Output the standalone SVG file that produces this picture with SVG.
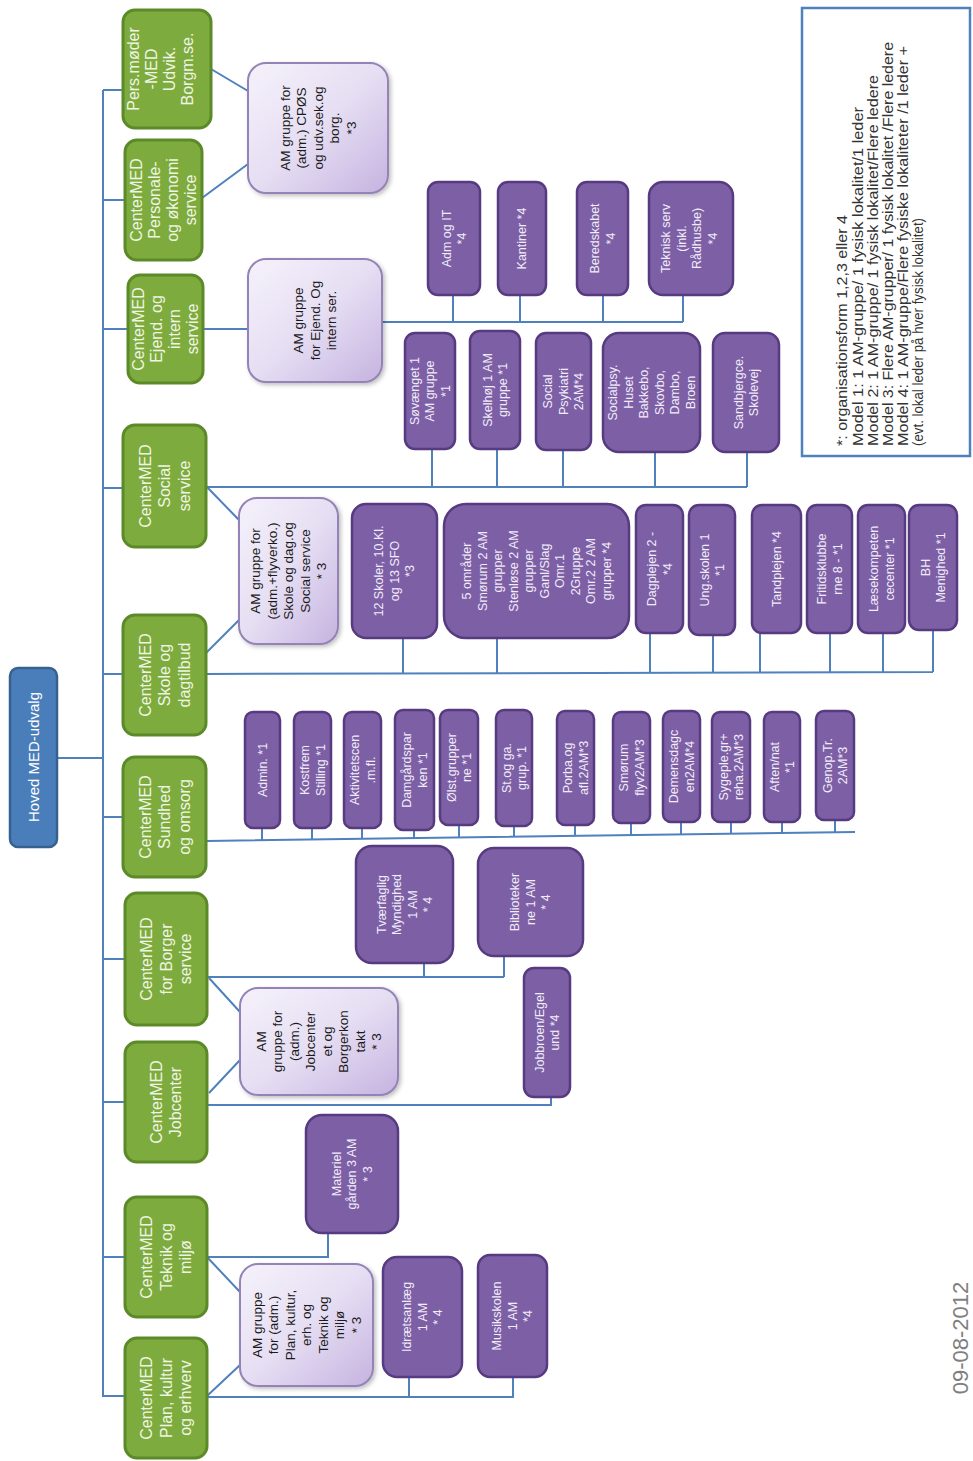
<svg xmlns="http://www.w3.org/2000/svg" width="973" height="1461" viewBox="0 0 973 1461">
<defs>
<linearGradient id="lav" x1="0" y1="0" x2="1" y2="1">
<stop offset="0" stop-color="#f5f2fb"/>
<stop offset="0.5" stop-color="#e6def3"/>
<stop offset="1" stop-color="#c5b3e0"/>
</linearGradient>
<filter id="sh" x="-10%" y="-10%" width="130%" height="130%">
<feDropShadow dx="2" dy="2" stdDeviation="2" flood-color="#000" flood-opacity="0.25"/>
</filter>
</defs>
<style>
text{font-family:"Liberation Sans",Arial,sans-serif;text-anchor:middle}
.gr{fill:#7eab3e;stroke:#5c8a28;stroke-width:3}
.pu{fill:#7d5fa6;stroke:#573b80;stroke-width:2.5}
.la{fill:url(#lav);stroke:#9483b6;stroke-width:2;filter:url(#sh)}
.bl{fill:#4a7ebb;stroke:#36618f;stroke-width:2.5}
.tg{font-size:16px;fill:#eef5e2}
.tp{font-size:12.5px;fill:#f1ecf8}
.tl{font-size:13.5px;fill:#1a1a1a}
.tb{font-size:15px;fill:#ffffff}
.ln{fill:none;stroke:#4f81bd;stroke-width:2}
.lg{font-size:14.5px;fill:#333333;text-anchor:start}
</style>
<rect width="973" height="1461" fill="#ffffff"/>

<g id="connectors" class="ln">
<path d="M103,90 V1397"/>
<path d="M57,758 H103"/>
<path d="M103,90 H123 M103,200 H125 M103,329 H128 M103,488 H123 M103,674 H123 M103,817 H123 M103,959 H125 M103,1102 H125 M103,1257 H125 M103,1396 H125"/>
<path d="M211,69 L248,91 M202,198 L248,164"/>
<path d="M203,329 H248"/>
<path d="M382,322 H683 M453,295 V322 M520,295 V322 M603,295 V322 M683,295 V322"/>
<path d="M206,487 H747 M432,449 V487 M497,449 V487 M563,450 V487 M655,452 V487 M747,452 V487"/>
<path d="M206,486 L239,520 M206,653 L239,620"/>
<path d="M206,674 L933,672 M403,638 V674 M497,638 V673 M650,633 V673 M713,635 V673 M760,633 V673 M830,633 V673 M883,633 V672 M933,630 V672"/>
<path d="M207,841 L855,832 M262,828 V840 M312,828 V840 M362,828 V839 M414,830 V838 M459,825 V838 M514,826 V837 M575,825 V836 M631,823 V835 M681,822 V834 M731,822 V834 M782,822 V833 M835,820 V832"/>
<path d="M207,977 H504 M424,963 V977 M504,956 V977"/>
<path d="M209,978 L240,1012 M209,1093 L240,1060"/>
<path d="M207,1105 H551 V1097"/>
<path d="M207,1257 H328 V1233"/>
<path d="M207,1257 L240,1292 M207,1396 L240,1365"/>
<path d="M207,1397 H513 V1377 M409,1377 V1397"/>
</g>

<g id="hoved"><rect class="bl" x="10" y="668" width="47" height="179" rx="8"/>
<text class="tb" transform="translate(33.5,757) rotate(-90)" y="5.25">Hoved MED-udvalg</text></g>

<g id="g-pers"><rect class="gr" x="123" y="10" width="88" height="118" rx="12"/>
<text class="tg" transform="translate(160,69) rotate(-90)"><tspan x="0" y="-21.4">Pers.møder</tspan><tspan x="0" y="-3.4">-MED</tspan><tspan x="0" y="14.6">Udvik.</tspan><tspan x="0" y="32.6">Borgm.se.</tspan></text></g>
<g id="g-personale"><rect class="gr" x="125" y="140" width="77" height="120" rx="12"/>
<text class="tg" transform="translate(163.5,200) rotate(-90)"><tspan x="0" y="-21.4">CenterMED</tspan><tspan x="0" y="-3.4">Personale-</tspan><tspan x="0" y="14.6">og økonomi</tspan><tspan x="0" y="32.6">service</tspan></text></g>
<g id="g-ejend"><rect class="gr" x="128" y="275" width="75" height="108" rx="12"/>
<text class="tg" transform="translate(165.5,329) rotate(-90)"><tspan x="0" y="-21.4">CenterMED</tspan><tspan x="0" y="-3.4">Ejend. og</tspan><tspan x="0" y="14.6">intern</tspan><tspan x="0" y="32.6">service</tspan></text></g>
<g id="g-social"><rect class="gr" x="123" y="425" width="83" height="122" rx="12"/>
<text class="tg" transform="translate(164.5,486) rotate(-90)"><tspan x="0" y="-13.9">CenterMED</tspan><tspan x="0" y="5.6">Social</tspan><tspan x="0" y="25.1">service</tspan></text></g>
<g id="g-skole"><rect class="gr" x="123" y="615" width="83" height="120" rx="12"/>
<text class="tg" transform="translate(164.5,675) rotate(-90)"><tspan x="0" y="-13.9">CenterMED</tspan><tspan x="0" y="5.6">Skole og</tspan><tspan x="0" y="25.1">dagtilbud</tspan></text></g>
<g id="g-sundhed"><rect class="gr" x="123" y="757" width="83" height="120" rx="12"/>
<text class="tg" transform="translate(164.5,817) rotate(-90)"><tspan x="0" y="-13.9">CenterMED</tspan><tspan x="0" y="5.6">Sundhed</tspan><tspan x="0" y="25.1">og omsorg</tspan></text></g>
<g id="g-borger"><rect class="gr" x="125" y="893" width="82" height="132" rx="12"/>
<text class="tg" transform="translate(166,959) rotate(-90)"><tspan x="0" y="-13.9">CenterMED</tspan><tspan x="0" y="5.6">for Borger</tspan><tspan x="0" y="25.1">service</tspan></text></g>
<g id="g-jobcenter"><rect class="gr" x="125" y="1042" width="82" height="120" rx="12"/>
<text class="tg" transform="translate(166,1102) rotate(-90)"><tspan x="0" y="-3.9">CenterMED</tspan><tspan x="0" y="15.1">Jobcenter</tspan></text></g>
<g id="g-teknik"><rect class="gr" x="125" y="1197" width="82" height="120" rx="12"/>
<text class="tg" transform="translate(166,1257) rotate(-90)"><tspan x="0" y="-13.9">CenterMED</tspan><tspan x="0" y="5.6">Teknik og</tspan><tspan x="0" y="25.1">miljø</tspan></text></g>
<g id="g-plan"><rect class="gr" x="125" y="1338" width="82" height="120" rx="12"/>
<text class="tg" transform="translate(166,1398) rotate(-90)"><tspan x="0" y="-13.9">CenterMED</tspan><tspan x="0" y="5.6">Plan, kultur</tspan><tspan x="0" y="25.1">og erhverv</tspan></text></g>

<g id="l-cpos"><rect class="la" x="248" y="63" width="140" height="130" rx="18"/>
<text class="tl" transform="translate(318,128) rotate(-90)"><tspan x="0" y="-28.3">AM gruppe for</tspan><tspan x="0" y="-11.8">(adm.) CPØS</tspan><tspan x="0" y="4.7">og udv.sek.og</tspan><tspan x="0" y="21.2">borg.</tspan><tspan x="0" y="37.7">*3</tspan></text></g>
<g id="l-ejend"><rect class="la" x="248" y="259" width="134" height="123" rx="18"/>
<text class="tl" transform="translate(315,320.5) rotate(-90)"><tspan x="0" y="-11.8">AM gruppe</tspan><tspan x="0" y="4.7">for Ejend. Og</tspan><tspan x="0" y="21.2">intern ser.</tspan></text></g>
<g id="l-skole"><rect class="la" x="239" y="498" width="99" height="146" rx="18"/>
<text class="tl" transform="translate(288.5,571) rotate(-90)"><tspan x="0" y="-28.3">AM gruppe for</tspan><tspan x="0" y="-11.8">(adm.+flyverko.)</tspan><tspan x="0" y="4.7">Skole og dag.og</tspan><tspan x="0" y="21.2">Social service</tspan><tspan x="0" y="37.7">* 3</tspan></text></g>
<g id="l-job"><rect class="la" x="240" y="988" width="158" height="107" rx="18"/>
<text class="tl" transform="translate(319,1041.5) rotate(-90)"><tspan x="0" y="-53.05">AM</tspan><tspan x="0" y="-36.55">gruppe for</tspan><tspan x="0" y="-20.05">(adm.)</tspan><tspan x="0" y="-3.55">Jobcenter</tspan><tspan x="0" y="12.95">et og</tspan><tspan x="0" y="29.45">Borgerkon</tspan><tspan x="0" y="45.95">takt</tspan><tspan x="0" y="62.45">* 3</tspan></text></g>
<g id="l-plan"><rect class="la" x="240" y="1264" width="133" height="122" rx="18"/>
<text class="tl" transform="translate(306.5,1325) rotate(-90)"><tspan x="0" y="-44.8">AM gruppe</tspan><tspan x="0" y="-28.3">for (adm.)</tspan><tspan x="0" y="-11.8">Plan, kultur,</tspan><tspan x="0" y="4.7">erh. og</tspan><tspan x="0" y="21.2">Teknik og</tspan><tspan x="0" y="37.7">miljø</tspan><tspan x="0" y="54.2">* 3</tspan></text></g>

<g id="p-admit"><rect class="pu" x="428" y="182" width="52" height="113" rx="10"/>
<text class="tp" transform="translate(454,238.5) rotate(-90)"><tspan x="0" y="-3.35">Adm og IT</tspan><tspan x="0" y="12.15">*4</tspan></text></g>
<g id="p-kantiner"><rect class="pu" x="498" y="182" width="48" height="113" rx="10"/>
<text class="tp" transform="translate(522,238.5) rotate(-90)"><tspan x="0" y="4.4">Kantiner *4</tspan></text></g>
<g id="p-beredskab"><rect class="pu" x="577" y="182" width="51" height="113" rx="10"/>
<text class="tp" transform="translate(602.5,238.5) rotate(-90)"><tspan x="0" y="-3.35">Beredskabet</tspan><tspan x="0" y="12.15">*4</tspan></text></g>
<g id="p-teknisk"><rect class="pu" x="649" y="182" width="84" height="113" rx="14"/>
<text class="tp" transform="translate(689,238.5) rotate(-90)"><tspan x="0" y="-18.85">Teknisk serv</tspan><tspan x="0" y="-3.35">(inkl.</tspan><tspan x="0" y="12.15">Rådhusbe)</tspan><tspan x="0" y="27.65">*4</tspan></text></g>

<g id="p-sovaenget"><rect class="pu" x="405" y="333" width="50" height="116" rx="10"/>
<text class="tp" transform="translate(430,391) rotate(-90)"><tspan x="0" y="-11.1">Søvænget 1</tspan><tspan x="0" y="4.4">AM gruppe</tspan><tspan x="0" y="19.9">*1</tspan></text></g>
<g id="p-skelhoj"><rect class="pu" x="470" y="331" width="50" height="118" rx="10"/>
<text class="tp" transform="translate(495,390) rotate(-90)"><tspan x="0" y="-3.35">Skelhøj 1 AM</tspan><tspan x="0" y="12.15">gruppe *1</tspan></text></g>
<g id="p-socpsyk"><rect class="pu" x="536" y="333" width="55" height="117" rx="10"/>
<text class="tp" transform="translate(563.5,391.5) rotate(-90)"><tspan x="0" y="-11.1">Social</tspan><tspan x="0" y="4.4">Psykiatri</tspan><tspan x="0" y="19.9">2AM*4</tspan></text></g>
<g id="p-socialpsy"><rect class="pu" x="603" y="333" width="97" height="119" rx="16"/>
<text class="tp" transform="translate(651.5,392.5) rotate(-90)"><tspan x="0" y="-34.35">Socialpsy.</tspan><tspan x="0" y="-18.85">Huset</tspan><tspan x="0" y="-3.35">Bakkebo,</tspan><tspan x="0" y="12.15">Skovbo,</tspan><tspan x="0" y="27.65">Dambo,</tspan><tspan x="0" y="43.15">Broen</tspan></text></g>
<g id="p-sandbjerg"><rect class="pu" x="713" y="333" width="66" height="119" rx="12"/>
<text class="tp" transform="translate(746,392.5) rotate(-90)"><tspan x="0" y="-3.35">Sandbjergce.</tspan><tspan x="0" y="12.15">Skolevej</tspan></text></g>

<g id="p-skoler"><rect class="pu" x="352" y="504" width="85" height="134" rx="14"/>
<text class="tp" transform="translate(394.5,571) rotate(-90)"><tspan x="0" y="-11.1">12 Skoler, 10.Kl.</tspan><tspan x="0" y="4.4">og 13 SFO</tspan><tspan x="0" y="19.9">*3</tspan></text></g>
<g id="p-omraader"><rect class="pu" x="444" y="504" width="185" height="134" rx="22"/>
<text class="tp" transform="translate(536.5,571) rotate(-90)"><tspan x="0" y="-65.35">5 områder</tspan><tspan x="0" y="-49.85">Smørum 2 AM</tspan><tspan x="0" y="-34.35">grupper</tspan><tspan x="0" y="-18.85">Stenløse 2 AM</tspan><tspan x="0" y="-3.35">grupper</tspan><tspan x="0" y="12.15">Ganl/Slag</tspan><tspan x="0" y="27.65">Omr.1</tspan><tspan x="0" y="43.15">2Gruppe</tspan><tspan x="0" y="58.65">Omr.2 2 AM</tspan><tspan x="0" y="74.15">grupper *4</tspan></text></g>
<g id="p-dagplejen"><rect class="pu" x="636" y="505" width="47" height="128" rx="10"/>
<text class="tp" transform="translate(659.5,569) rotate(-90)"><tspan x="0" y="-3.35">Dagplejen 2 -</tspan><tspan x="0" y="12.15">*4</tspan></text></g>
<g id="p-ungskolen"><rect class="pu" x="689" y="505" width="46" height="130" rx="10"/>
<text class="tp" transform="translate(712,570) rotate(-90)"><tspan x="0" y="-3.35">Ung.skolen 1</tspan><tspan x="0" y="12.15">*1</tspan></text></g>
<g id="p-tandplejen"><rect class="pu" x="752" y="505" width="49" height="128" rx="10"/>
<text class="tp" transform="translate(776.5,569) rotate(-90)"><tspan x="0" y="4.4">Tandplejen *4</tspan></text></g>
<g id="p-fritid"><rect class="pu" x="807" y="505" width="45" height="128" rx="10"/>
<text class="tp" transform="translate(829.5,569) rotate(-90)"><tspan x="0" y="-3.35">Fritidsklubbe</tspan><tspan x="0" y="12.15">rne 8 - *1</tspan></text></g>
<g id="p-laese"><rect class="pu" x="858" y="505" width="47" height="128" rx="10"/>
<text class="tp" transform="translate(881.5,569) rotate(-90)"><tspan x="0" y="-3.35">Læsekompeten</tspan><tspan x="0" y="12.15">cecenter *1</tspan></text></g>
<g id="p-bh"><rect class="pu" x="909" y="505" width="48" height="125" rx="10"/>
<text class="tp" transform="translate(933,567.5) rotate(-90)"><tspan x="0" y="-3.35">BH</tspan><tspan x="0" y="12.15">Menighed *1</tspan></text></g>

<g id="p-admin"><rect class="pu" x="245" y="712" width="35" height="116" rx="8"/>
<text class="tp" transform="translate(262.5,770) rotate(-90)"><tspan x="0" y="4.4">Admin. *1</tspan></text></g>
<g id="p-kostfrem"><rect class="pu" x="294" y="712" width="37" height="116" rx="8"/>
<text class="tp" transform="translate(312.5,770) rotate(-90)"><tspan x="0" y="-3.35">Kostfrem</tspan><tspan x="0" y="12.15">Stilling *1</tspan></text></g>
<g id="p-aktivitet"><rect class="pu" x="344" y="712" width="37" height="116" rx="8"/>
<text class="tp" transform="translate(362.5,770) rotate(-90)"><tspan x="0" y="-3.35">Aktivitetscen</tspan><tspan x="0" y="12.15">.m.fl.</tspan></text></g>
<g id="p-damgaard"><rect class="pu" x="395" y="710" width="39" height="120" rx="8"/>
<text class="tp" transform="translate(414.5,770) rotate(-90)"><tspan x="0" y="-3.35">Damgårdspar</tspan><tspan x="0" y="12.15">ken *1</tspan></text></g>
<g id="p-olst"><rect class="pu" x="440" y="710" width="38" height="115" rx="8"/>
<text class="tp" transform="translate(459,767.5) rotate(-90)"><tspan x="0" y="-3.35">Ølst.grupper</tspan><tspan x="0" y="12.15">ne *1</tspan></text></g>
<g id="p-stoga"><rect class="pu" x="496" y="710" width="36" height="116" rx="8"/>
<text class="tp" transform="translate(514,768) rotate(-90)"><tspan x="0" y="-3.35">St.og ga.</tspan><tspan x="0" y="12.15">grup. *1</tspan></text></g>
<g id="p-porba"><rect class="pu" x="557" y="711" width="37" height="114" rx="8"/>
<text class="tp" transform="translate(575.5,768) rotate(-90)"><tspan x="0" y="-3.35">Porba.og</tspan><tspan x="0" y="12.15">afl.2AM*3</tspan></text></g>
<g id="p-smorum"><rect class="pu" x="613" y="712" width="37" height="111" rx="8"/>
<text class="tp" transform="translate(631.5,767.5) rotate(-90)"><tspan x="0" y="-3.35">Smørum</tspan><tspan x="0" y="12.15">flyv2AM*3</tspan></text></g>
<g id="p-demens"><rect class="pu" x="663" y="711" width="37" height="111" rx="8"/>
<text class="tp" transform="translate(681.5,766.5) rotate(-90)"><tspan x="0" y="-3.35">Demensdagc</tspan><tspan x="0" y="12.15">en2AM*4</tspan></text></g>
<g id="p-sygeple"><rect class="pu" x="712" y="712" width="38" height="110" rx="8"/>
<text class="tp" transform="translate(731,767) rotate(-90)"><tspan x="0" y="-3.35">Sygeple.gr+</tspan><tspan x="0" y="12.15">reha.2AM*3</tspan></text></g>
<g id="p-aften"><rect class="pu" x="764" y="712" width="36" height="110" rx="8"/>
<text class="tp" transform="translate(782,767) rotate(-90)"><tspan x="0" y="-3.35">Aften/nat</tspan><tspan x="0" y="12.15">*1</tspan></text></g>
<g id="p-genop"><rect class="pu" x="816" y="711" width="38" height="109" rx="8"/>
<text class="tp" transform="translate(835,765.5) rotate(-90)"><tspan x="0" y="-3.35">Genop.Tr.</tspan><tspan x="0" y="12.15">2AM*3</tspan></text></g>

<g id="p-tvaerfaglig"><rect class="pu" x="356" y="846" width="97" height="117" rx="16"/>
<text class="tp" transform="translate(404.5,904.5) rotate(-90)"><tspan x="0" y="-18.85">Tværfaglig</tspan><tspan x="0" y="-3.35">Myndighed</tspan><tspan x="0" y="12.15">1 AM</tspan><tspan x="0" y="27.65">* 4</tspan></text></g>
<g id="p-bibliotek"><rect class="pu" x="478" y="848" width="105" height="108" rx="16"/>
<text class="tp" transform="translate(530.5,902) rotate(-90)"><tspan x="0" y="-11.1">Biblioteker</tspan><tspan x="0" y="4.4">ne 1 AM</tspan><tspan x="0" y="19.9">* 4</tspan></text></g>
<g id="p-jobbroen"><rect class="pu" x="524" y="968" width="46" height="129" rx="10"/>
<text class="tp" transform="translate(547,1032.5) rotate(-90)"><tspan x="0" y="-3.35">Jobbroen/Egel</tspan><tspan x="0" y="12.15">und *4</tspan></text></g>
<g id="p-materiel"><rect class="pu" x="306" y="1115" width="92" height="118" rx="16"/>
<text class="tp" transform="translate(352,1174) rotate(-90)"><tspan x="0" y="-11.1">Materiel</tspan><tspan x="0" y="4.4">gården 3 AM</tspan><tspan x="0" y="19.9">* 3</tspan></text></g>
<g id="p-idraet"><rect class="pu" x="383" y="1257" width="79" height="120" rx="14"/>
<text class="tp" transform="translate(422.5,1317) rotate(-90)"><tspan x="0" y="-11.1">Idrætsanlæg</tspan><tspan x="0" y="4.4">1 AM</tspan><tspan x="0" y="19.9">* 4</tspan></text></g>
<g id="p-musik"><rect class="pu" x="478" y="1255" width="69" height="122" rx="12"/>
<text class="tp" transform="translate(512.5,1316) rotate(-90)"><tspan x="0" y="-11.1">Musikskolen</tspan><tspan x="0" y="4.4">1 AM</tspan><tspan x="0" y="19.9">*4</tspan></text></g>

<g id="legend"><rect x="802" y="8" width="168" height="448" fill="#ffffff" stroke="#4f81bd" stroke-width="2.5"/>
<text class="lg" transform="rotate(-90)"><tspan x="-446" y="847" textLength="231" lengthAdjust="spacingAndGlyphs">*: organisationsform 1,2,3 eller 4</tspan><tspan x="-446" y="862.5" textLength="339" lengthAdjust="spacingAndGlyphs">Model 1: 1 AM-gruppe/ 1 fysisk lokalitet/1 leder</tspan><tspan x="-446" y="878" textLength="371" lengthAdjust="spacingAndGlyphs">Model 2: 1 AM-gruppe/ 1 fysisk lokalitet/Flere ledere</tspan><tspan x="-446" y="893" textLength="404" lengthAdjust="spacingAndGlyphs">Model 3: Flere AM-grupper/ 1 fysisk lokalitet /Flere ledere</tspan><tspan x="-446" y="908" textLength="400" lengthAdjust="spacingAndGlyphs">Model 4: 1 AM-gruppe/Flere fysiske lokaliteter /1 leder +</tspan><tspan x="-446" y="923" textLength="228" lengthAdjust="spacingAndGlyphs">(evt. lokal leder på hver fysisk lokalitet)</tspan></text></g>

<g id="date"><text transform="translate(960,1338) rotate(-90)" y="7.7" style="font-size:22px;fill:#7f7f7f">09-08-2012</text></g>
</svg>
